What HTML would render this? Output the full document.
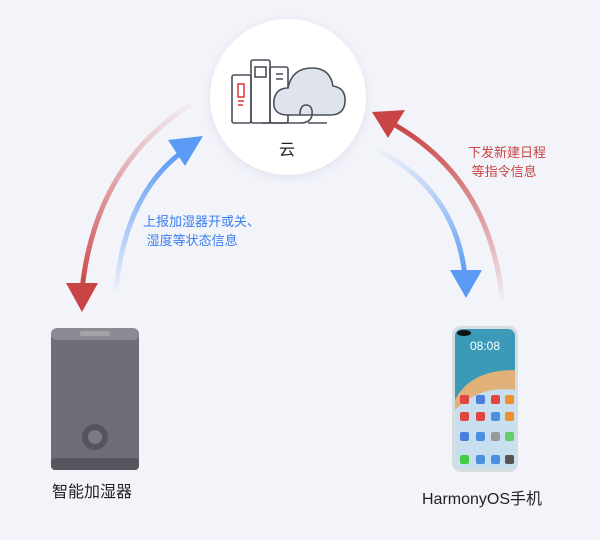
<!DOCTYPE html>
<html><head><meta charset="utf-8"><style>
body{margin:0;width:600px;height:540px;background:#f3f4fa;font-family:"Liberation Sans","Noto Sans CJK SC",sans-serif;position:relative;overflow:hidden}
.t{position:absolute;font-size:13px;line-height:19px}
</style></head><body>
<svg width="600" height="540" style="position:absolute;left:0;top:0">
<defs>
<linearGradient id="r1" x1="0" y1="0" x2="0" y2="1"><stop offset="0" stop-color="#c94444" stop-opacity="0.05"/><stop offset="1" stop-color="#c94444"/></linearGradient>
<linearGradient id="b1" x1="0" y1="1" x2="0" y2="0"><stop offset="0" stop-color="#5b9bf5" stop-opacity="0.05"/><stop offset="1" stop-color="#5b9bf5"/></linearGradient>
<linearGradient id="r2" x1="0" y1="1" x2="0" y2="0"><stop offset="0" stop-color="#c94444" stop-opacity="0.05"/><stop offset="1" stop-color="#c94444"/></linearGradient>
<linearGradient id="b2" x1="0" y1="0" x2="0" y2="1"><stop offset="0" stop-color="#5b9bf5" stop-opacity="0.05"/><stop offset="1" stop-color="#5b9bf5"/></linearGradient>
<filter id="sh" x="-20%" y="-20%" width="140%" height="140%"><feDropShadow dx="0" dy="2" stdDeviation="5" flood-color="#9aa0c0" flood-opacity="0.25"/></filter>
</defs>
<path d="M190,105 Q95,165 82,290" fill="none" stroke="url(#r1)" stroke-width="5"/>
<polygon points="66,283 98,283 82,312" fill="#c94444"/>
<path d="M116,290 Q125,195 182,152" fill="none" stroke="url(#b1)" stroke-width="5"/>
<polygon points="168,140 203,136 185,166" fill="#5b9bf5"/>
<path d="M502,298 Q490,180 395,125" fill="none" stroke="url(#r2)" stroke-width="5"/>
<polygon points="372,112 405,110 388,138" fill="#c94444"/>
<path d="M378,150 Q455,190 465,275" fill="none" stroke="url(#b2)" stroke-width="5"/>
<polygon points="450,270 482,270 466,298" fill="#5b9bf5"/>
<circle cx="288" cy="97" r="78" fill="#fff" filter="url(#sh)"/>
<g fill="none" stroke="#4a4e5a" stroke-width="1.6">
<rect x="232" y="75" width="19" height="48" rx="2"/>
<rect x="251" y="60" width="19" height="63" rx="2"/>
<rect x="255" y="67" width="11" height="10"/>
<rect x="270" y="67" width="18" height="56" rx="2"/>
<path d="M276,74 L283,74 M276,79 L283,79"/>
<path d="M288,115 Q272,115 274,100 Q276,88 288,88 Q292,68 312,68 Q330,68 333,86 Q346,88 345,102 Q344,115 330,115 Z" fill="#dfe4ec"/>
<path d="M300,115 Q300,105 306,105 Q313,105 312,115 Q311,122 302,123 L262,123"/>
<path d="M308,123 L327,123"/>
</g>
<rect x="238" y="84" width="6" height="13" fill="none" stroke="#d33" stroke-width="1.5"/>
<path d="M238,101 L244,101 M238,105 L243,105" stroke="#d33" stroke-width="1.5"/>
<rect x="51" y="328" width="88" height="142" rx="8" fill="#6d6e76"/>
<rect x="51" y="328" width="88" height="12" rx="6" fill="#8b8c93"/>
<rect x="80" y="331" width="30" height="5" rx="2" fill="#a3a4aa"/>
<rect x="51" y="458" width="88" height="12" rx="4" fill="#55565d"/>
<circle cx="95" cy="437" r="13" fill="#55565d"/>
<circle cx="95" cy="437" r="7" fill="#7a7b82"/>
<rect x="452" y="326" width="66" height="146" rx="9" fill="#d8dde0"/>
<rect x="455" y="329" width="60" height="140" rx="7" fill="#3a9ab8"/>
<path d="M455,400 Q470,370 515,370 L515,469 L455,469 Z" fill="#e0b27a"/>
<path d="M455,410 Q480,385 515,390 L515,469 L455,469 Z" fill="#c8dff0"/>
<ellipse cx="464" cy="333" rx="7" ry="3" fill="#111"/>
<g fill="#e0473f"><rect x="460" y="395" width="9" height="9" rx="2"/><rect x="476" y="395" width="9" height="9" rx="2" fill="#4a7fe0"/><rect x="491" y="395" width="9" height="9" rx="2"/><rect x="505" y="395" width="9" height="9" rx="2" fill="#f09030"/>
<rect x="460" y="412" width="9" height="9" rx="2"/><rect x="476" y="412" width="9" height="9" rx="2"/><rect x="491" y="412" width="9" height="9" rx="2" fill="#4a8fe0"/><rect x="505" y="412" width="9" height="9" rx="2" fill="#f09030"/>
<rect x="460" y="432" width="9" height="9" rx="2" fill="#4a7fe0"/><rect x="476" y="432" width="9" height="9" rx="2" fill="#4a8fe0"/><rect x="491" y="432" width="9" height="9" rx="2" fill="#999"/><rect x="505" y="432" width="9" height="9" rx="2" fill="#6c6"/>
<rect x="460" y="455" width="9" height="9" rx="2" fill="#4c4"/><rect x="476" y="455" width="9" height="9" rx="2" fill="#4a8fe0"/><rect x="491" y="455" width="9" height="9" rx="2" fill="#4a8fe0"/><rect x="505" y="455" width="9" height="9" rx="2" fill="#555"/></g>
<text x="485" y="350" font-size="12" fill="#fff" text-anchor="middle" font-family="Liberation Sans">08:08</text>
</svg>
<div class="t" style="left:279px;top:141px;font-size:16px;color:#222">云</div>
<div class="t" style="left:143px;top:212px;color:#3a7ef0">上报加湿器开或关、<br>&nbsp;湿度等状态信息</div>
<div class="t" style="left:468px;top:143px;color:#c94444">下发新建日程<br>&nbsp;等指令信息</div>
<div class="t" style="left:52px;top:483px;font-size:16px;color:#222">智能加湿器</div>
<div class="t" style="left:422px;top:490px;font-size:16px;color:#222">HarmonyOS手机</div>
</body></html>
